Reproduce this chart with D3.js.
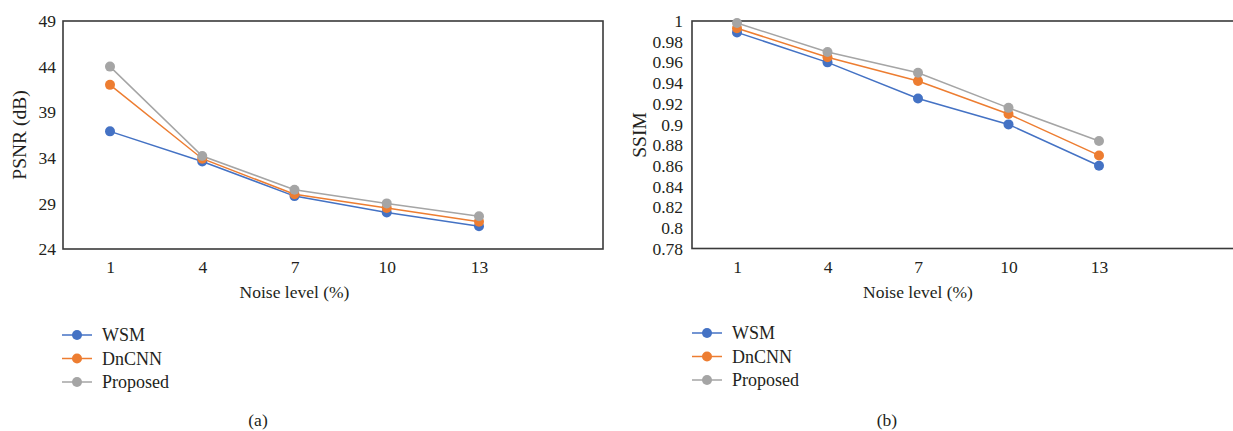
<!DOCTYPE html>
<html>
<head>
<meta charset="utf-8">
<script src="https://cdn.jsdelivr.net/npm/d3@7"></script>
<style>
  body { margin: 0; background: #fff; }
  text { font-family: "Liberation Serif", "DejaVu Serif", serif; fill: #231f20; }
</style>
</head>
<body>
<div id="chart"></div>
<script>
// noise levels (%)
var noiseLevels = ["1", "4", "7", "10", "13"];
var seriesNames = ["WSM", "DnCNN", "Proposed"];
var seriesColors = ["#4472C4", "#ED7D31", "#A5A5A5"];

// (a) PSNR (dB)
var psnrWSM = [36.9, 33.6, 29.8, 28.0, 26.5];
var psnrDnCNN = [42.0, 33.9, 30.0, 28.5, 27.0];
var psnrProposed = [44.0, 34.2, 30.5, 29.0, 27.6];
var psnrTicks = [24, 29, 34, 39, 44, 49];

// (b) SSIM
var ssimWSM = [0.989, 0.960, 0.925, 0.900, 0.860];
var ssimDnCNN = [0.993, 0.965, 0.942, 0.910, 0.870];
var ssimProposed = [0.998, 0.970, 0.950, 0.916, 0.884];
var ssimTicks = [0.78, 0.8, 0.82, 0.84, 0.86, 0.88, 0.9, 0.92, 0.94, 0.96, 0.98, 1];

var svg = d3.select("#chart").append("svg")
    .attr("width", 1233)
    .attr("height", 431);

function drawPanel(cfg) {
    var g = svg.append("g");

    var x = d3.scalePoint()
        .domain(noiseLevels)
        .range([cfg.x0, cfg.x1]);
    var y = d3.scaleLinear()
        .domain(cfg.yDomain)
        .range([cfg.bottom, cfg.top]);

    // plot frame
    g.append("rect")
        .attr("x", cfg.boxLeft)
        .attr("y", cfg.top)
        .attr("width", cfg.boxRight - cfg.boxLeft)
        .attr("height", cfg.bottom - cfg.top)
        .attr("fill", "none")
        .attr("stroke", "#3a3a3a")
        .attr("stroke-width", 1.6);

    // y axis labels
    var yAxis = d3.axisLeft(y)
        .tickValues(cfg.yTicks)
        .tickSize(0)
        .tickPadding(cfg.tickPad)
        .tickFormat(function (d) { return String(+d.toFixed(2)); });
    var ya = g.append("g")
        .attr("transform", "translate(" + cfg.boxLeft + ",0)")
        .call(yAxis);
    ya.select(".domain").remove();
    ya.selectAll("text")
        .attr("font-size", 17.5)
        .attr("font-family", "Liberation Serif")
        .attr("fill", "#231f20");

    // x axis labels
    var xAxis = d3.axisBottom(x).tickSize(0).tickPadding(12);
    var xa = g.append("g")
        .attr("transform", "translate(0," + cfg.bottom + ")")
        .call(xAxis);
    xa.select(".domain").remove();
    xa.selectAll("text")
        .attr("font-size", 17.5)
        .attr("font-family", "Liberation Serif")
        .attr("fill", "#231f20");

    g.append("text")
        .attr("x", (cfg.x0 + cfg.x1) / 2)
        .attr("y", 298)
        .attr("text-anchor", "middle")
        .attr("font-size", 17.5)
        .text("Noise level (%)");

    g.append("text")
        .attr("transform", "translate(" + cfg.yTitleX + ",135) rotate(-90)")
        .attr("text-anchor", "middle")
        .attr("dy", "0.35em")
        .attr("font-size", 19.5)
        .text(cfg.yTitle);

    var line = d3.line()
        .x(function (d, i) { return x(noiseLevels[i]); })
        .y(function (d) { return y(d); });

    cfg.series.forEach(function (vals, k) {
        g.append("path")
            .datum(vals)
            .attr("d", line)
            .attr("fill", "none")
            .attr("stroke", seriesColors[k])
            .attr("stroke-width", 1.5);
    });
    cfg.series.forEach(function (vals, k) {
        g.selectAll(".dot" + k)
            .data(vals)
            .enter().append("circle")
            .attr("cx", function (d, i) { return x(noiseLevels[i]); })
            .attr("cy", function (d) { return y(d); })
            .attr("r", 5)
            .attr("fill", seriesColors[k]);
    });

    // legend
    seriesNames.forEach(function (name, k) {
        var ly = cfg.legendY + k * 23.5;
        g.append("line")
            .attr("x1", cfg.legendX).attr("x2", cfg.legendX + 30)
            .attr("y1", ly).attr("y2", ly)
            .attr("stroke", seriesColors[k])
            .attr("stroke-width", 1.5);
        g.append("circle")
            .attr("cx", cfg.legendX + 15)
            .attr("cy", ly)
            .attr("r", 5)
            .attr("fill", seriesColors[k]);
        g.append("text")
            .attr("x", cfg.legendX + 40)
            .attr("y", ly)
            .attr("dy", "0.35em")
            .attr("font-size", 18)
            .text(name);
    });

    g.append("text")
        .attr("x", cfg.captionX)
        .attr("y", 420)
        .attr("dy", "0.35em")
        .attr("text-anchor", "middle")
        .attr("font-size", 17.5)
        .text(cfg.caption);
}

drawPanel({
    x0: 110, x1: 479, boxLeft: 63, boxRight: 603,
    top: 21, bottom: 249,
    yDomain: [24, 49], yTicks: psnrTicks, tickPad: 7,
    yTitle: "PSNR (dB)", yTitleX: 19,
    series: [psnrWSM, psnrDnCNN, psnrProposed],
    legendX: 62, legendY: 335, captionX: 258, caption: "(a)"
});

drawPanel({
    x0: 737, x1: 1099, boxLeft: 692, boxRight: 1245,
    top: 21, bottom: 248.5,
    yDomain: [0.78, 1], yTicks: ssimTicks, tickPad: 9,
    yTitle: "SSIM", yTitleX: 639,
    series: [ssimWSM, ssimDnCNN, ssimProposed],
    legendX: 692, legendY: 333, captionX: 887, caption: "(b)"
});
</script>
</body>
</html>
